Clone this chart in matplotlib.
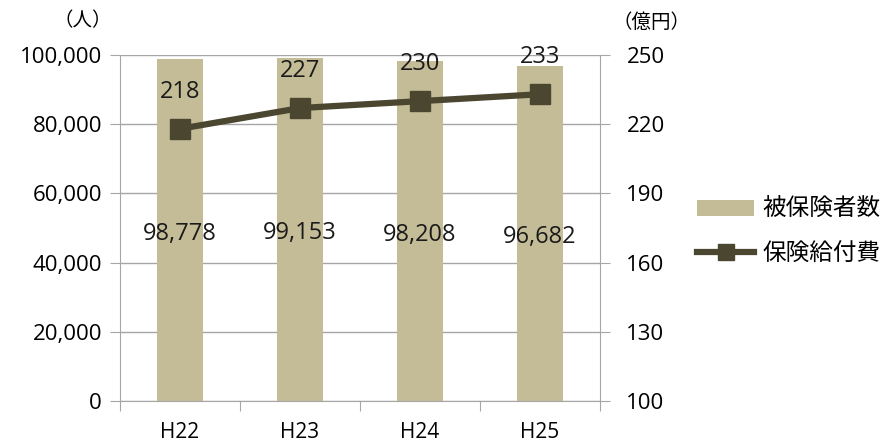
import matplotlib
matplotlib.use("Agg")
import matplotlib.pyplot as plt
from matplotlib.ticker import FuncFormatter
from matplotlib.lines import Line2D
from matplotlib.patches import Patch

plt.rcParams['font.family'] = ['Noto Sans CJK JP', 'DejaVu Sans']

years = ["H22", "H23", "H24", "H25"]
insured = [98778, 99153, 98208, 96682]       # 被保険者数（人）
benefits = [218, 227, 230, 233]               # 保険給付費（億円）

bar_color = "#c4bc96"
line_color = "#4b4630"
grid_color = "#a6a6a6"
num_font = "Open Sans"

fig = plt.figure(figsize=(8.86, 4.44), dpi=100)
ax = fig.add_axes([120 / 886, 43 / 444, 480 / 886, 346 / 444])
ax2 = ax.twinx()

x = list(range(len(years)))
ax.bar(x, insured, width=0.38, color=bar_color, zorder=2)
ax.set_xlim(-0.5, len(years) - 0.5)
ax.set_ylim(0, 100000)
ax.set_yticks(range(0, 100001, 20000))
ax.yaxis.set_major_formatter(FuncFormatter(lambda v, p: f"{int(v):,}"))
ax.grid(axis="y", color=grid_color, linewidth=1, zorder=0)
ax.set_axisbelow(True)

for xi, v in zip(x, insured):
    ax.text(xi, v / 2 - 1000, f"{v:,}", ha="center", va="center", fontsize=17,
            family=num_font, color="#1a1a1a", zorder=5)

ax2.plot(x, benefits, color=line_color, linewidth=4.5, marker="s",
         markersize=15, zorder=4)
ax2.set_ylim(100, 250)
ax2.set_yticks(range(100, 251, 30))
for xi, v in zip(x, benefits):
    ax2.text(xi, v + 16, f"{v}", ha="center", va="center", fontsize=17,
             family=num_font, color="#1a1a1a")

# category ticks sit on the boundaries between groups
ax.set_xticks([i - 0.5 for i in range(len(years) + 1)])
ax.set_xticklabels([])
ax.set_xticks(x, minor=True)
ax.set_xticklabels(years, minor=True, fontsize=15, family=num_font)
ax.tick_params(axis="x", which="minor", length=0, pad=15)
ax.tick_params(axis="x", which="major", length=7, color=grid_color, direction="out")

for a in (ax, ax2):
    a.spines["top"].set_visible(False)
    a.spines["left"].set_color(grid_color)
    a.spines["right"].set_color(grid_color)
    a.spines["bottom"].set_color(grid_color)
    a.tick_params(axis="y", length=7, color=grid_color, labelsize=16, pad=6)
    for lbl in a.get_yticklabels():
        lbl.set_family(num_font)
ax.spines["right"].set_visible(False)
ax2.spines["left"].set_visible(False)
ax2.spines["bottom"].set_visible(False)
ax2.tick_params(axis="y", pad=12)

fig.text(83 / 886, 1 - 21 / 444, "（人）", ha="center", va="center", fontsize=14)
fig.text(652 / 886, 1 - 22 / 444, "（億円）", ha="center", va="center", fontsize=14)

handles = [Patch(facecolor=bar_color, edgecolor="none"),
           Line2D([0], [0], color=line_color, linewidth=4.5, marker="s", markersize=11)]
fig.legend(handles, ["被保険者数", "保険給付費"], loc="center left",
           bbox_to_anchor=(676 / 886, 1 - 232 / 444), frameon=False,
           fontsize=17, handlelength=2.4, handletextpad=0.35, labelspacing=0.9)

fig.savefig("out.png", dpi=100, facecolor="white")
